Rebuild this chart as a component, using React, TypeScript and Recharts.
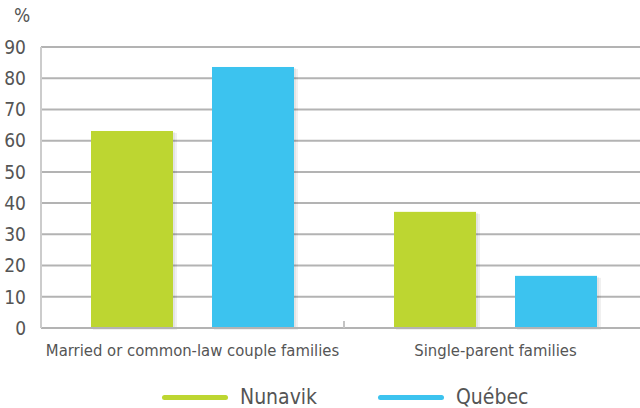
import React from "react";
import { BarChart, Bar, XAxis, YAxis, CartesianGrid } from "recharts";

const categories = ["Married or common-law couple families", "Single-parent families"];
const nunavik = [63.1, 37.2];
const quebec = [83.6, 16.7];
const yTicks = [0, 10, 20, 30, 40, 50, 60, 70, 80, 90];
const seriesNames = ["Nunavik", "Québec"];

const data = categories.map((c, i) => ({ name: c, Nunavik: nunavik[i], Quebec: quebec[i] }));

const FONT = "'DejaVu Sans Condensed', 'Liberation Sans Narrow', sans-serif";
const TEXT = "#555555";
const GREEN = "#bdd631";
const BLUE = "#3cc3ef";
const colors = [GREEN, BLUE];
const legendX = [162, 378];

const ShadowBar = (props: any) => {
  const { x, y, width, height, fill } = props;
  return (
    <g>
      <rect x={x + 2} y={y + 2} width={width + 2} height={height} fill="rgba(0,0,0,0.06)" />
      <rect x={x + 1} y={y + 1} width={width + 1} height={height} fill="rgba(0,0,0,0.05)" />
      <rect x={x} y={y} width={width} height={height} fill={fill} />
    </g>
  );
};

export default function App() {
  return (
    <div style={{ position: "absolute", left: 0, top: 0, width: 640, height: 408, overflow: "hidden", background: "#fff" }}>
      <div style={{ position: "absolute", left: 14, top: 4, fontFamily: FONT, fontSize: 19, color: TEXT }}>%</div>
      <BarChart
        width={647}
        height={408}
        data={data}
        margin={{ top: 47, right: 0, left: 0, bottom: 40 }}
        barSize={82}
        barGap={39}
      >
        <CartesianGrid vertical={false} stroke="#b3b3b3" strokeWidth={2} />
        <XAxis
          dataKey="name"
          axisLine={{ stroke: "#b3b3b3", strokeWidth: 2 }}
          tickLine={false}
          tick={{ fill: TEXT, fontSize: 16.5, fontFamily: FONT }}
          tickMargin={10}
          height={40}
        />
        <YAxis
          domain={[0, 90]}
          ticks={yTicks}
          width={41}
          axisLine={{ stroke: "#cccccc", strokeWidth: 2 }}
          tickLine={false}
          tick={{ fill: TEXT, fontSize: 19, fontFamily: FONT }}
          tickMargin={9}
          interval={0}
        />
        <Bar dataKey="Nunavik" name="Nunavik" fill={GREEN} shape={<ShadowBar />} isAnimationActive={false} />
        <Bar dataKey="Quebec" name="Québec" fill={BLUE} shape={<ShadowBar />} isAnimationActive={false} />
      </BarChart>
      <div style={{ position: "absolute", left: 343, top: 321, width: 2, height: 7, background: "#c4c4c4" }} />
      {seriesNames.map((label, i) => (
        <div
          key={label}
          style={{
            position: "absolute",
            left: legendX[i],
            top: 382,
            height: 30,
            display: "flex",
            alignItems: "center",
            fontFamily: FONT,
            fontSize: 21,
            color: TEXT,
          }}
        >
          <div style={{ width: 66, height: 5, borderRadius: 3, background: colors[i], marginRight: 12 }} />
          <span>{label}</span>
        </div>
      ))}
    </div>
  );
}
